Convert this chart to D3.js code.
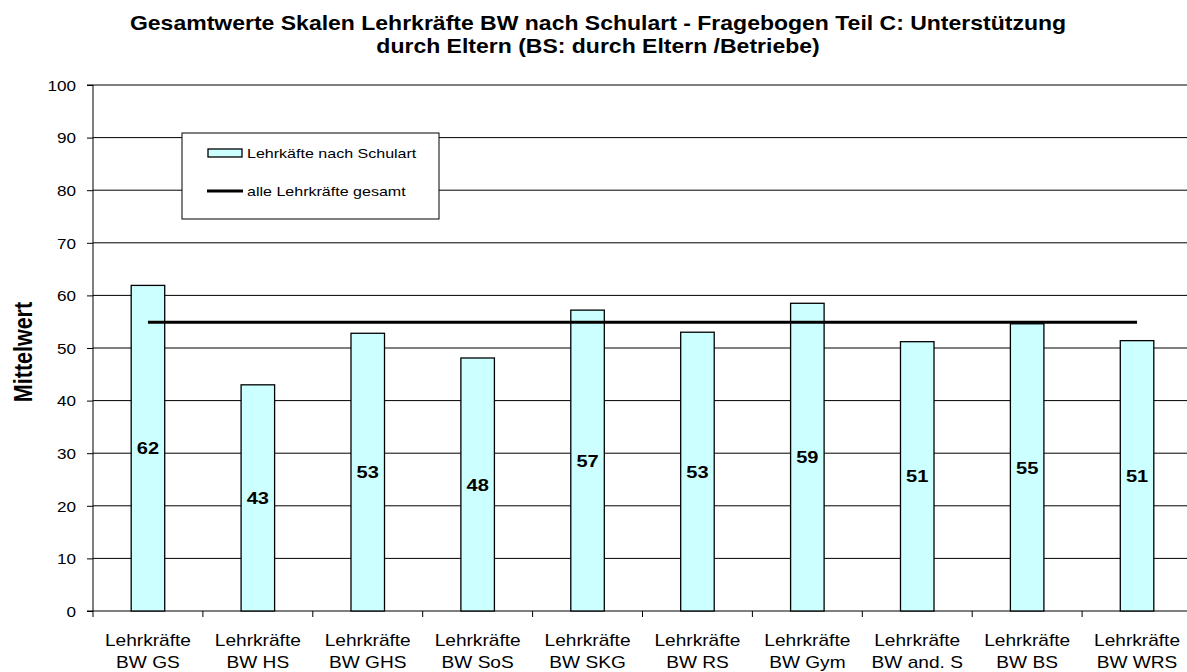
<!DOCTYPE html>
<html>
<head>
<meta charset="utf-8">
<script src="https://cdn.jsdelivr.net/npm/d3@7"></script>
<style>
  body { margin: 0; background: #fff; }
  svg { display: block; font-family: "Liberation Sans", Arial, sans-serif; }
</style>
</head>
<body>
<svg id="chart"></svg>
<script>
const width = 1187;
const height = 672;

// data
const schools = ["GS", "HS", "GHS", "SoS", "SKG", "RS", "Gym", "and. S", "BS", "WRS"];
const values = [61.9, 43.0, 52.8, 48.1, 57.2, 53.0, 58.5, 51.2, 54.6, 51.4];
const overall = 54.9;
const yTicks = [0, 10, 20, 30, 40, 50, 60, 70, 80, 90, 100];
const titleLines = [
  "Gesamtwerte Skalen Lehrkräfte BW nach Schulart - Fragebogen Teil C: Unterstützung",
  "durch Eltern (BS: durch Eltern /Betriebe)"
];
const legendLabels = ["Lehrkäfte nach Schulart", "alle Lehrkräfte gesamt"];

// the original picture is a bit wider than tall, text glyphs are stretched
const sx = 1.18;

const svg = d3.select("#chart").attr("width", width).attr("height", height);

const plotLeft = 93, plotRight = 1192, plotTop = 85, plotBottom = 611;

const x = d3.scaleBand().domain(schools).range([plotLeft, plotRight]).paddingInner(0.695).paddingOuter(0.3475);
const xBoundary = d3.scaleLinear().domain([0, schools.length]).range([plotLeft, plotRight]);
const y = d3.scaleLinear().domain([0, 100]).range([plotBottom, plotTop]);
const cx = d => x(d) + x.bandwidth() / 2;

// title
svg.selectAll(".title").data(titleLines).enter().append("text")
  .attr("transform", (d, i) => `translate(598,${30 + i * 23}) scale(${sx},1)`)
  .attr("text-anchor", "middle")
  .style("font-size", "19.5px").style("font-weight", "bold")
  .text(d => d);

// gridlines
svg.selectAll(".grid").data(yTicks.filter(d => d > 0)).enter().append("line")
  .attr("x1", plotLeft).attr("x2", plotRight)
  .attr("y1", d => y(d)).attr("y2", d => y(d))
  .attr("stroke", "#000").attr("stroke-width", 1);

// y axis
const yAxis = d3.axisLeft(y).tickValues(yTicks).tickSize(6);
const gy = svg.append("g").attr("transform", `translate(${plotLeft},0)`).call(yAxis);
gy.select(".domain").attr("d", `M-6,${plotBottom}H0V${plotTop}H-6`).attr("stroke", "#000");
gy.selectAll("line").attr("stroke", "#000");
gy.selectAll("text")
  .attr("x", 0).attr("dy", "0.36em")
  .attr("transform", `translate(-17,0) scale(${sx},1)`)
  .style("font-size", "14.5px").style("font-family", "Liberation Sans, Arial, sans-serif").attr("fill", "#000");

// y label
svg.append("text")
  .attr("transform", `translate(31.5,352) scale(${sx},1) rotate(-90)`)
  .attr("text-anchor", "middle")
  .style("font-size", "21.5px").style("font-weight", "bold")
  .text("Mittelwert");

// x axis baseline and ticks
svg.append("line").attr("x1", plotLeft).attr("x2", plotRight)
  .attr("y1", plotBottom).attr("y2", plotBottom).attr("stroke", "#000");
svg.selectAll(".xtick").data(d3.range(schools.length + 1)).enter().append("line")
  .attr("x1", d => xBoundary(d)).attr("x2", d => xBoundary(d))
  .attr("y1", plotBottom).attr("y2", plotBottom + 6)
  .attr("stroke", "#000");

// x labels
const xl = svg.selectAll(".xlabel").data(schools).enter().append("text")
  .attr("transform", d => `translate(${cx(d)},0) scale(${sx},1)`)
  .attr("text-anchor", "middle")
  .style("font-size", "16.2px");
xl.append("tspan").attr("x", 0).attr("y", 646).text("Lehrkräfte");
xl.append("tspan").attr("x", 0).attr("y", 668).text(d => "BW " + d);

// bars
svg.selectAll(".bar").data(values).enter().append("rect")
  .attr("x", (d, i) => x(schools[i]))
  .attr("y", d => y(d))
  .attr("width", x.bandwidth())
  .attr("height", d => y(0) - y(d))
  .attr("fill", "#CCFFFF").attr("stroke", "#000").attr("stroke-width", 1.3);

// overall line
svg.append("line")
  .attr("x1", cx(schools[0]))
  .attr("x2", cx(schools[schools.length - 1]))
  .attr("y1", y(overall)).attr("y2", y(overall))
  .attr("stroke", "#000").attr("stroke-width", 3);

// value labels
svg.selectAll(".val").data(values).enter().append("text")
  .attr("transform", (d, i) => `translate(${cx(schools[i])},${y(d / 2)}) scale(${sx},1)`)
  .attr("dy", "0.36em")
  .attr("text-anchor", "middle")
  .style("font-size", "17px").style("font-weight", "bold")
  .text(d => Math.round(d));

// legend
const legend = svg.append("g").attr("transform", "translate(182,133)");
legend.append("rect").attr("width", 257).attr("height", 86)
  .attr("fill", "#fff").attr("stroke", "#000").attr("stroke-width", 1);
legend.append("rect").attr("x", 26).attr("y", 16).attr("width", 34).attr("height", 8)
  .attr("fill", "#CCFFFF").attr("stroke", "#000").attr("stroke-width", 1.3);
legend.append("line").attr("x1", 25).attr("x2", 61).attr("y1", 58).attr("y2", 58)
  .attr("stroke", "#000").attr("stroke-width", 3);
legend.selectAll(".leg").data(legendLabels).enter().append("text")
  .attr("transform", (d, i) => `translate(65,${20 + i * 38}) scale(${sx},1)`)
  .attr("dy", "0.36em")
  .style("font-size", "13.6px")
  .text(d => d);
</script>
</body>
</html>
